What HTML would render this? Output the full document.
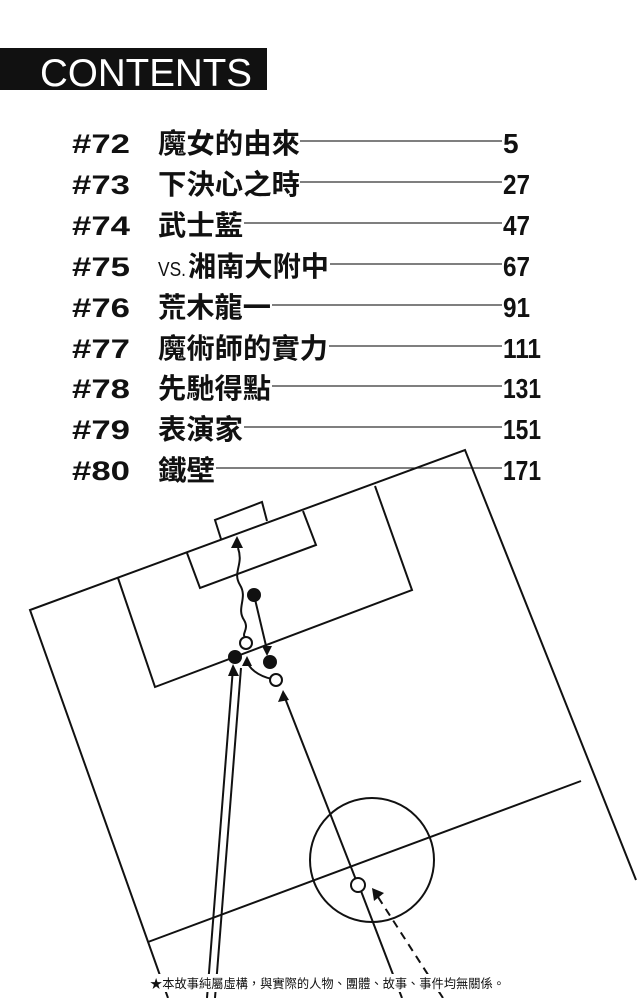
<!DOCTYPE html>
<html><head><meta charset="utf-8"><style>
html,body{margin:0;padding:0;background:#fff;}
svg{display:block;}
.n{font-family:"Liberation Sans",sans-serif;font-weight:bold;font-size:27px;fill:#111;}
.c{font-family:"Liberation Sans","Noto Sans CJK TC",sans-serif;font-weight:bold;font-size:28px;fill:#111;}
.p{font-family:"Liberation Sans",sans-serif;font-weight:bold;font-size:28px;fill:#111;}
</style></head><body>
<svg width="640" height="998" viewBox="0 0 640 998" xmlns="http://www.w3.org/2000/svg">
<rect x="0" y="48" width="267" height="42" fill="#111"/>
<text x="40" y="86" font-family="Liberation Sans,sans-serif" font-size="39" fill="#fff" textLength="212" lengthAdjust="spacingAndGlyphs">CONTENTS</text>
<g stroke="#333" stroke-width="1.3">
<line x1="300" y1="141" x2="502" y2="141"/>
<line x1="300" y1="182" x2="502" y2="182"/>
<line x1="244" y1="223" x2="502" y2="223"/>
<line x1="330" y1="264" x2="502" y2="264"/>
<line x1="272" y1="305" x2="502" y2="305"/>
<line x1="329" y1="346" x2="502" y2="346"/>
<line x1="272" y1="386" x2="502" y2="386"/>
<line x1="244" y1="427" x2="502" y2="427"/>
<line x1="216" y1="468" x2="502" y2="468"/>
</g>
<g class="n">
<text x="72" y="153" textLength="58" lengthAdjust="spacingAndGlyphs">#72</text>
<text x="72" y="194" textLength="58" lengthAdjust="spacingAndGlyphs">#73</text>
<text x="72" y="235" textLength="58" lengthAdjust="spacingAndGlyphs">#74</text>
<text x="72" y="276" textLength="58" lengthAdjust="spacingAndGlyphs">#75</text>
<text x="72" y="317" textLength="58" lengthAdjust="spacingAndGlyphs">#76</text>
<text x="72" y="358" textLength="58" lengthAdjust="spacingAndGlyphs">#77</text>
<text x="72" y="398" textLength="58" lengthAdjust="spacingAndGlyphs">#78</text>
<text x="72" y="439" textLength="58" lengthAdjust="spacingAndGlyphs">#79</text>
<text x="72" y="480" textLength="58" lengthAdjust="spacingAndGlyphs">#80</text>
</g>
<g class="c">
<text x="158" y="153" textLength="142" lengthAdjust="spacingAndGlyphs">魔女的由來</text>
<text x="158" y="194" textLength="142" lengthAdjust="spacingAndGlyphs">下決心之時</text>
<text x="158" y="235" textLength="85" lengthAdjust="spacingAndGlyphs">武士藍</text>
<text x="158" y="276" font-size="20" font-weight="normal" textLength="28" lengthAdjust="spacingAndGlyphs">VS.</text>
<text x="188" y="276" textLength="141" lengthAdjust="spacingAndGlyphs">湘南大附中</text>
<text x="158" y="317" textLength="113" lengthAdjust="spacingAndGlyphs">荒木龍一</text>
<text x="158" y="358" textLength="170" lengthAdjust="spacingAndGlyphs">魔術師的實力</text>
<text x="158" y="398" textLength="113" lengthAdjust="spacingAndGlyphs">先馳得點</text>
<text x="158" y="439" textLength="85" lengthAdjust="spacingAndGlyphs">表演家</text>
<text x="158" y="480" textLength="57" lengthAdjust="spacingAndGlyphs">鐵壁</text>
</g>
<g class="p">
<text x="503" y="153">5</text>
<text x="503" y="194" textLength="27" lengthAdjust="spacingAndGlyphs">27</text>
<text x="503" y="235" textLength="27" lengthAdjust="spacingAndGlyphs">47</text>
<text x="503" y="276" textLength="27" lengthAdjust="spacingAndGlyphs">67</text>
<text x="503" y="317" textLength="27" lengthAdjust="spacingAndGlyphs">91</text>
<text x="503" y="358" textLength="38" lengthAdjust="spacingAndGlyphs">111</text>
<text x="503" y="398" textLength="38" lengthAdjust="spacingAndGlyphs">131</text>
<text x="503" y="439" textLength="38" lengthAdjust="spacingAndGlyphs">151</text>
<text x="503" y="480" textLength="38" lengthAdjust="spacingAndGlyphs">171</text>
</g>
<g fill="none" stroke="#111" stroke-width="2">
<polyline points="168,998 30,610 465,450 636,880"/>
<line x1="148" y1="942" x2="581" y2="781"/>
<circle cx="372" cy="860" r="62"/>
<polyline points="118,578 155,687 412,590 375,486"/>
<polyline points="187,553 200,588 316,545 303,511"/>
<polyline points="221,539 215,520 262,502 267,521"/>
<path d="M238,548 C244,565 232,572 240,585 C248,598 236,608 244,620 C250,630 240,634 246,638"/>
<line x1="254" y1="595" x2="267" y2="650"/>
<path d="M272,679 C258,676 248,668 247,660"/>
<line x1="207" y1="998" x2="233" y2="668"/>
<line x1="215" y1="998" x2="241" y2="668"/>
<line x1="358" y1="885" x2="283" y2="693"/>
<line x1="361" y1="891" x2="402" y2="998"/>
<line x1="443" y1="998" x2="378" y2="897" stroke-dasharray="8,6"/>
</g>
<g fill="#111">
<polygon points="237,536 231,548 243,548"/>
<polygon points="267,656 262,646 272,646"/>
<polygon points="283,690 278,702 289,700"/>
<polygon points="247,656 242,666 252,666"/>
<polygon points="233,664 228,676 239,676"/>
<polygon points="372,888 384,893 374,901"/>
<circle cx="254" cy="595" r="7"/>
<circle cx="235" cy="657" r="7"/>
<circle cx="270" cy="662" r="7"/>
</g>
<g fill="#fff" stroke="#111" stroke-width="2">
<circle cx="246" cy="643" r="6"/>
<circle cx="276" cy="680" r="6"/>
<circle cx="358" cy="885" r="7"/>
</g>
<rect x="148" y="974" width="360" height="18" fill="#fff"/>
<text x="150" y="988" font-family="Liberation Sans,Noto Sans CJK TC,sans-serif" font-size="12.5" fill="#111" textLength="355" lengthAdjust="spacingAndGlyphs">★本故事純屬虛構，與實際的人物、團體、故事、事件均無關係。</text>
</svg>
</body></html>
